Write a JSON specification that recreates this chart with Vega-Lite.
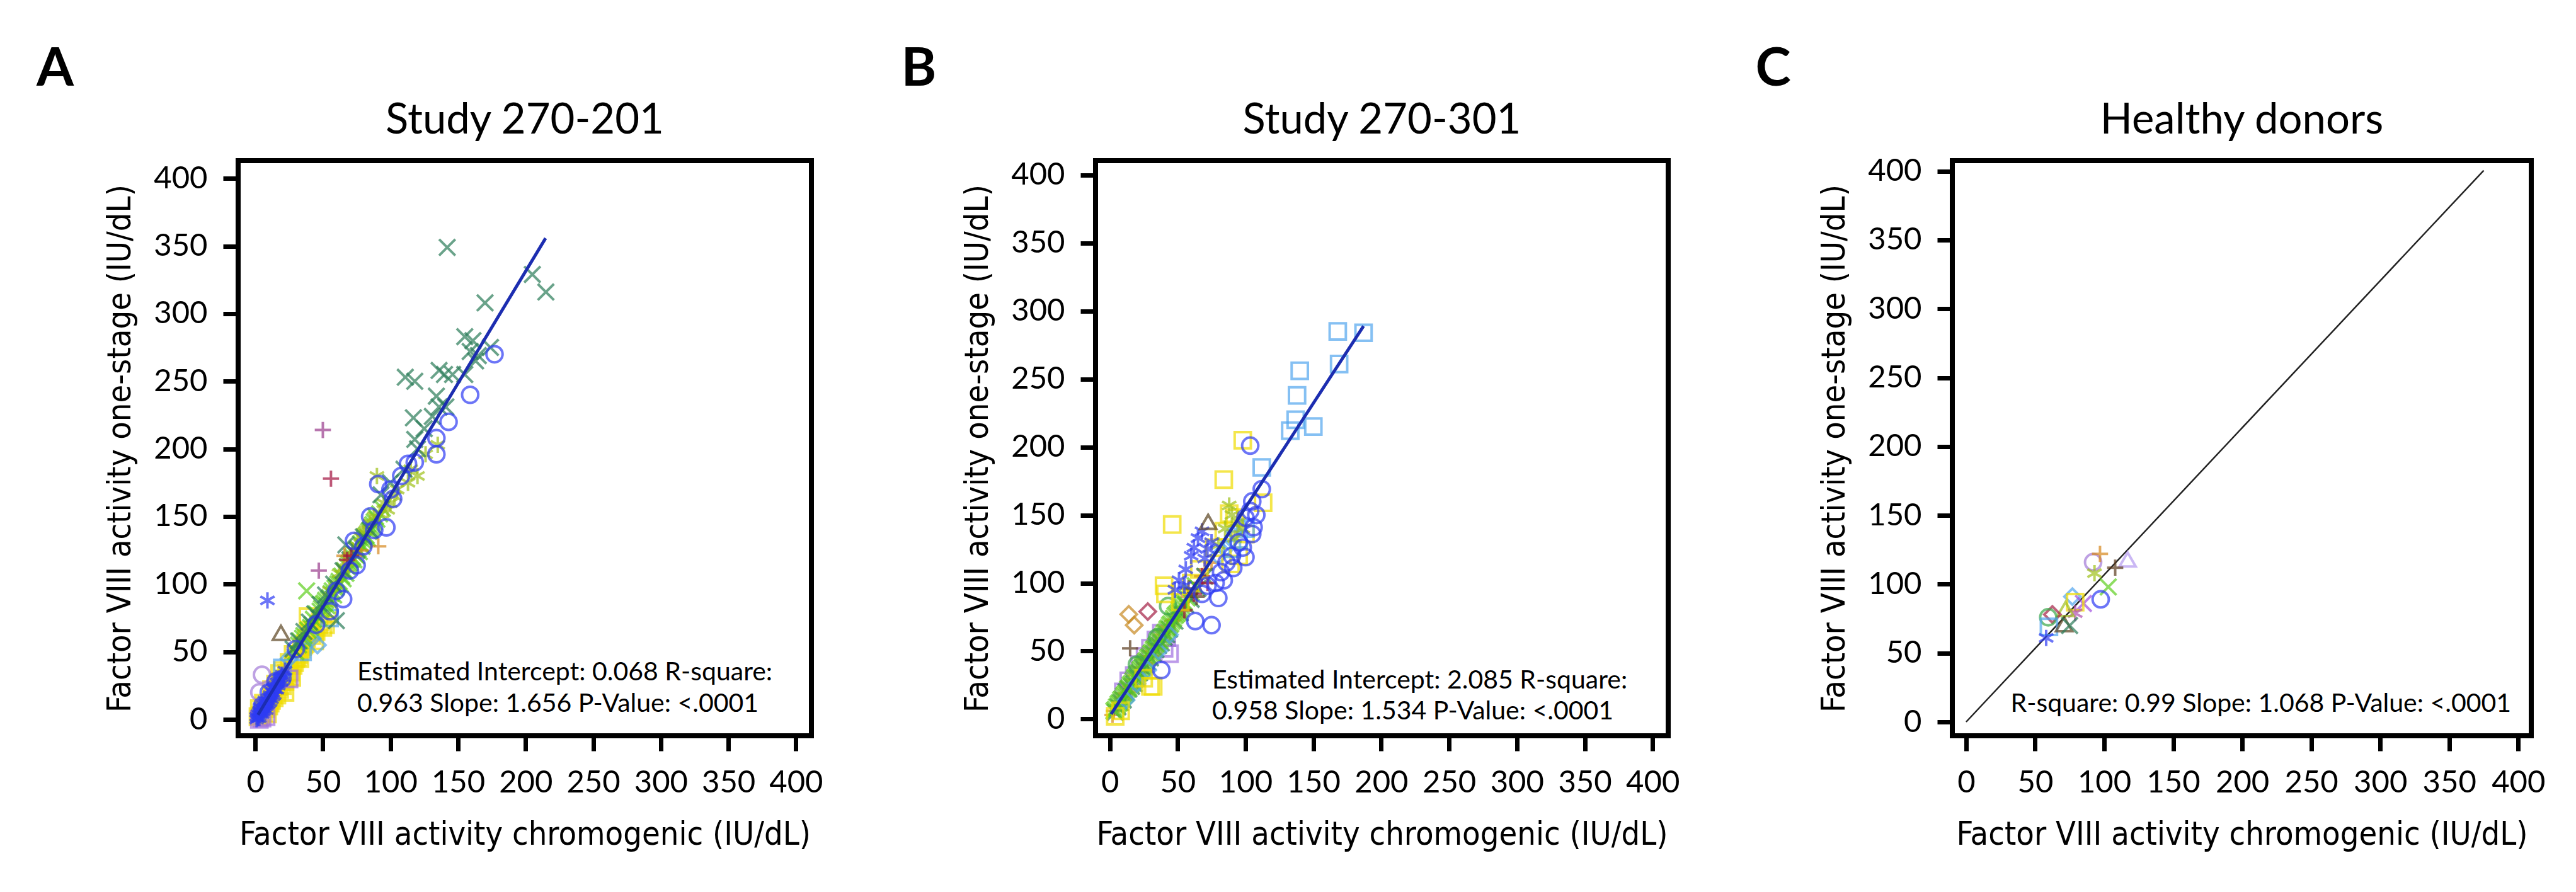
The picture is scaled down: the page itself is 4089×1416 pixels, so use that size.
{
  "$schema": "https://vega.github.io/schema/vega-lite/v6.json",
  "background": "white",
  "padding": {"left": 54, "top": 63, "right": 10, "bottom": 10},
  "config": {
    "view": {"stroke": "#000000", "strokeWidth": 8, "fill": "white"},
    "axis": {"domain": false, "grid": false, "ticks": true, "tickColor": "#000000", "tickWidth": 7, "tickSize": 24, "labelFont": "Lato", "labelFontSize": 49, "labelColor": "#000000", "titleFont": "DejaVu Sans Condensed", "titleFontSize": 52, "titleFontWeight": "normal", "titleColor": "#000000", "labelFlush": false, "labelOverlap": false},
    "axisX": {"labelPadding": 26, "titlePadding": 32},
    "axisY": {"labelPadding": 25, "titlePadding": 26},
    "title": {"font": "Lato", "fontSize": 67, "fontWeight": "normal", "color": "#000000", "frame": "group", "anchor": "middle"},
    "point": {"filled": false, "strokeWidth": 4, "size": 660}
  },
  "datasets": {
    "A": [
      {"x":2,"y":2,"g":"g5"},{"x":4,"y":3,"g":"g5"},{"x":6,"y":5,"g":"g5"},{"x":8,"y":8,"g":"g5"},{"x":10,"y":10,"g":"g5"},{"x":12,"y":14,"g":"g5"},{"x":14,"y":16,"g":"g5"},{"x":16,"y":18,"g":"g5"},{"x":18,"y":22,"g":"g5"},{"x":20,"y":25,"g":"g5"},{"x":22,"y":28,"g":"g5"},{"x":24,"y":32,"g":"g5"},{"x":26,"y":35,"g":"g5"},{"x":28,"y":40,"g":"g5"},{"x":30,"y":45,"g":"g5"},{"x":32,"y":48,"g":"g5"},{"x":34,"y":52,"g":"g5"},{"x":36,"y":55,"g":"g5"},{"x":38,"y":60,"g":"g5"},{"x":39,"y":76,"g":"g5"},{"x":52,"y":70,"g":"g5"},{"x":28,"y":48,"g":"g5"},{"x":45,"y":65,"g":"g5"},{"x":42,"y":62,"g":"g5"},{"x":25,"y":42,"g":"g5"},{"x":20,"y":36,"g":"g5"},{"x":15,"y":26,"g":"g5"},{"x":18,"y":34,"g":"g5"},{"x":12,"y":22,"g":"g5"},{"x":48,"y":72,"g":"g5"},{"x":50,"y":68,"g":"g5"},{"x":6,"y":12,"g":"g5"},{"x":9,"y":4,"g":"g5"},{"x":3,"y":8,"g":"g5"},{"x":22,"y":20,"g":"g5"},{"x":27,"y":31,"g":"g5"},{"x":33,"y":45,"g":"g5"},{"x":44,"y":58,"g":"g5"},{"x":40,"y":66,"g":"g5"},{"x":54,"y":78,"g":"g5"},{"x":47,"y":70,"g":"g5"},
      {"x":7,"y":10,"g":"g5"},{"x":11,"y":12,"g":"g5"},{"x":13,"y":18,"g":"g5"},{"x":17,"y":24,"g":"g5"},{"x":19,"y":28,"g":"g5"},{"x":21,"y":30,"g":"g5"},{"x":23,"y":34,"g":"g5"},{"x":29,"y":42,"g":"g5"},{"x":31,"y":46,"g":"g5"},{"x":35,"y":54,"g":"g5"},{"x":37,"y":56,"g":"g5"},{"x":41,"y":64,"g":"g5"},{"x":43,"y":66,"g":"g5"},
      {"x":46,"y":55,"g":"g11"},{"x":25,"y":45,"g":"g11"},{"x":42,"y":60,"g":"g11"},
      {"x":35,"y":50,"g":"g6"},{"x":20,"y":38,"g":"g6"},{"x":55,"y":75,"g":"g6"},
      {"x":3,"y":0,"g":"g19"},{"x":5,"y":1,"g":"g19"},{"x":25,"y":30,"g":"g19"},{"x":8,"y":2,"g":"g19"},
      {"x":5,"y":33,"g":"g12"},{"x":3,"y":20,"g":"g12"},
      {"x":19,"y":64,"g":"g15"},
      {"x":38,"y":95,"g":"g9"},{"x":42,"y":70,"g":"g9"},{"x":45,"y":78,"g":"g9"},{"x":48,"y":80,"g":"g9"},{"x":50,"y":85,"g":"g9"},{"x":52,"y":88,"g":"g9"},{"x":55,"y":90,"g":"g9"},{"x":57,"y":95,"g":"g9"},{"x":60,"y":98,"g":"g9"},{"x":62,"y":102,"g":"g9"},{"x":64,"y":106,"g":"g9"},{"x":66,"y":110,"g":"g9"},{"x":68,"y":113,"g":"g9"},{"x":70,"y":116,"g":"g9"},{"x":72,"y":120,"g":"g9"},{"x":74,"y":122,"g":"g9"},{"x":76,"y":126,"g":"g9"},{"x":78,"y":130,"g":"g9"},{"x":80,"y":132,"g":"g9"},{"x":82,"y":136,"g":"g9"},{"x":84,"y":139,"g":"g9"},{"x":86,"y":142,"g":"g9"},{"x":88,"y":146,"g":"g9"},{"x":90,"y":148,"g":"g9"},{"x":47,"y":75,"g":"g9"},{"x":53,"y":84,"g":"g9"},{"x":58,"y":92,"g":"g9"},{"x":63,"y":100,"g":"g9"},{"x":67,"y":108,"g":"g9"},{"x":73,"y":118,"g":"g9"},{"x":77,"y":124,"g":"g9"},{"x":83,"y":134,"g":"g9"},{"x":35,"y":60,"g":"g9"},{"x":32,"y":55,"g":"g9"},{"x":30,"y":50,"g":"g9"},
      {"x":33,"y":58,"g":"g9"},{"x":36,"y":62,"g":"g9"},{"x":39,"y":66,"g":"g9"},{"x":41,"y":68,"g":"g9"},{"x":43,"y":74,"g":"g9"},{"x":46,"y":77,"g":"g9"},{"x":49,"y":82,"g":"g9"},{"x":51,"y":86,"g":"g9"},{"x":54,"y":89,"g":"g9"},{"x":56,"y":93,"g":"g9"},{"x":59,"y":97,"g":"g9"},{"x":61,"y":100,"g":"g9"},{"x":65,"y":104,"g":"g9"},{"x":69,"y":115,"g":"g9"},{"x":71,"y":118,"g":"g9"},{"x":75,"y":121,"g":"g9"},{"x":79,"y":128,"g":"g9"},{"x":81,"y":134,"g":"g9"},{"x":85,"y":140,"g":"g9"},{"x":87,"y":144,"g":"g9"},{"x":89,"y":150,"g":"g9"},{"x":92,"y":152,"g":"g9"},{"x":94,"y":156,"g":"g9"},
      {"x":90,"y":180,"g":"g3"},{"x":120,"y":180,"g":"g3"},{"x":113,"y":175,"g":"g3"},{"x":135,"y":203,"g":"g3"},{"x":103,"y":165,"g":"g3"},{"x":126,"y":196,"g":"g3"},{"x":95,"y":160,"g":"g3"},{"x":85,"y":145,"g":"g3"},{"x":78,"y":135,"g":"g3"},{"x":70,"y":120,"g":"g3"},{"x":62,"y":108,"g":"g3"},{"x":55,"y":95,"g":"g3"},{"x":98,"y":155,"g":"g3"},{"x":105,"y":170,"g":"g3"},{"x":115,"y":185,"g":"g3"},{"x":88,"y":150,"g":"g3"},{"x":80,"y":138,"g":"g3"},{"x":72,"y":125,"g":"g3"},{"x":68,"y":112,"g":"g3"},{"x":60,"y":100,"g":"g3"},{"x":65,"y":112,"g":"g3"},{"x":75,"y":128,"g":"g3"},{"x":82,"y":140,"g":"g3"},{"x":92,"y":152,"g":"g3"},{"x":100,"y":160,"g":"g3"},
      {"x":142,"y":349,"g":"g2"},{"x":205,"y":329,"g":"g2"},{"x":215,"y":316,"g":"g2"},{"x":170,"y":308,"g":"g2"},{"x":155,"y":283,"g":"g2"},{"x":161,"y":280,"g":"g2"},{"x":159,"y":272,"g":"g2"},{"x":165,"y":269,"g":"g2"},{"x":174,"y":275,"g":"g2"},{"x":163,"y":265,"g":"g2"},{"x":136,"y":258,"g":"g2"},{"x":140,"y":255,"g":"g2"},{"x":146,"y":255,"g":"g2"},{"x":111,"y":253,"g":"g2"},{"x":118,"y":250,"g":"g2"},{"x":155,"y":255,"g":"g2"},{"x":134,"y":239,"g":"g2"},{"x":136,"y":231,"g":"g2"},{"x":131,"y":224,"g":"g2"},{"x":141,"y":231,"g":"g2"},{"x":117,"y":223,"g":"g2"},{"x":118,"y":207,"g":"g2"},{"x":93,"y":166,"g":"g2"},{"x":67,"y":129,"g":"g2"},{"x":60,"y":73,"g":"g2"},{"x":100,"y":175,"g":"g2"},{"x":120,"y":200,"g":"g2"},{"x":110,"y":185,"g":"g2"},{"x":85,"y":140,"g":"g2"},{"x":80,"y":135,"g":"g2"},{"x":75,"y":125,"g":"g2"},{"x":70,"y":118,"g":"g2"},{"x":65,"y":110,"g":"g2"},{"x":58,"y":100,"g":"g2"},{"x":52,"y":92,"g":"g2"},{"x":48,"y":85,"g":"g2"},{"x":44,"y":78,"g":"g2"},{"x":40,"y":72,"g":"g2"},{"x":36,"y":65,"g":"g2"},{"x":32,"y":58,"g":"g2"},{"x":28,"y":52,"g":"g2"},{"x":125,"y":215,"g":"g2"},
      {"x":91,"y":128,"g":"g10"},{"x":66,"y":121,"g":"g10"},{"x":78,"y":125,"g":"g10"},
      {"x":56,"y":178,"g":"g8"},{"x":71,"y":121,"g":"g8"},{"x":68,"y":118,"g":"g8"},
      {"x":50,"y":214,"g":"g7"},{"x":47,"y":110,"g":"g7"},
      {"x":177,"y":270,"g":"g1"},{"x":159,"y":240,"g":"g1"},{"x":143,"y":220,"g":"g1"},{"x":134,"y":208,"g":"g1"},{"x":134,"y":196,"g":"g1"},{"x":91,"y":174,"g":"g1"},{"x":102,"y":163,"g":"g1"},{"x":97,"y":142,"g":"g1"},{"x":73,"y":132,"g":"g1"},{"x":75,"y":114,"g":"g1"},{"x":65,"y":89,"g":"g1"},{"x":113,"y":189,"g":"g1"},{"x":108,"y":180,"g":"g1"},{"x":88,"y":140,"g":"g1"},{"x":80,"y":128,"g":"g1"},{"x":60,"y":95,"g":"g1"},{"x":55,"y":80,"g":"g1"},{"x":45,"y":70,"g":"g1"},{"x":30,"y":52,"g":"g1"},{"x":20,"y":30,"g":"g1"},{"x":15,"y":28,"g":"g1"},{"x":10,"y":20,"g":"g1"},{"x":5,"y":10,"g":"g1"},{"x":85,"y":150,"g":"g1"},{"x":70,"y":110,"g":"g1"},{"x":100,"y":170,"g":"g1"},{"x":118,"y":190,"g":"g1"},
      {"x":1,"y":2,"g":"g4"},{"x":2,"y":4,"g":"g4"},{"x":3,"y":3,"g":"g4"},{"x":3,"y":6,"g":"g4"},{"x":4,"y":5,"g":"g4"},{"x":5,"y":8,"g":"g4"},{"x":5,"y":4,"g":"g4"},{"x":6,"y":10,"g":"g4"},{"x":7,"y":9,"g":"g4"},{"x":8,"y":12,"g":"g4"},{"x":8,"y":7,"g":"g4"},{"x":9,"y":14,"g":"g4"},{"x":10,"y":16,"g":"g4"},{"x":10,"y":12,"g":"g4"},{"x":11,"y":18,"g":"g4"},{"x":12,"y":15,"g":"g4"},{"x":12,"y":21,"g":"g4"},{"x":13,"y":20,"g":"g4"},{"x":14,"y":24,"g":"g4"},{"x":15,"y":22,"g":"g4"},{"x":16,"y":27,"g":"g4"},{"x":17,"y":25,"g":"g4"},{"x":18,"y":30,"g":"g4"},{"x":19,"y":28,"g":"g4"},{"x":20,"y":33,"g":"g4"},{"x":21,"y":31,"g":"g4"},{"x":22,"y":36,"g":"g4"},{"x":9,"y":88,"g":"g4"},{"x":6,"y":6,"g":"g4"},{"x":4,"y":9,"g":"g4"},{"x":14,"y":18,"g":"g4"},{"x":16,"y":22,"g":"g4"},{"x":11,"y":13,"g":"g4"},{"x":2,"y":1,"g":"g4"},{"x":7,"y":14,"g":"g4"},
      {"x":1,"y":0,"g":"g4"},{"x":3,"y":1,"g":"g4"},{"x":4,"y":7,"g":"g4"},{"x":6,"y":8,"g":"g4"},{"x":8,"y":10,"g":"g4"},{"x":9,"y":11,"g":"g4"},{"x":11,"y":16,"g":"g4"},{"x":13,"y":17,"g":"g4"},{"x":15,"y":25,"g":"g4"},{"x":17,"y":28,"g":"g4"},{"x":19,"y":31,"g":"g4"},{"x":13,"y":23,"g":"g4"},{"x":5,"y":6,"g":"g4"},{"x":7,"y":11,"g":"g4"}
    ],
    "B": [
      {"x":10,"y":20,"g":"g19"},{"x":14,"y":28,"g":"g19"},{"x":18,"y":32,"g":"g19"},{"x":22,"y":40,"g":"g19"},{"x":26,"y":46,"g":"g19"},{"x":30,"y":52,"g":"g19"},{"x":34,"y":58,"g":"g19"},{"x":38,"y":63,"g":"g19"},{"x":42,"y":60,"g":"g19"},{"x":44,"y":48,"g":"g19"},{"x":40,"y":52,"g":"g19"},
      {"x":2,"y":3,"g":"g10"},{"x":6,"y":10,"g":"g10"},{"x":10,"y":16,"g":"g10"},{"x":14,"y":20,"g":"g10"},{"x":18,"y":29,"g":"g10"},{"x":22,"y":35,"g":"g10"},{"x":26,"y":41,"g":"g10"},{"x":30,"y":46,"g":"g10"},{"x":34,"y":55,"g":"g10"},{"x":38,"y":57,"g":"g10"},{"x":42,"y":65,"g":"g10"},{"x":46,"y":72,"g":"g10"},{"x":50,"y":75,"g":"g10"},{"x":58,"y":90,"g":"g10"},{"x":62,"y":95,"g":"g10"},{"x":66,"y":100,"g":"g10"},{"x":70,"y":110,"g":"g10"},{"x":75,"y":115,"g":"g10"},
      {"x":3,"y":6,"g":"g10"},{"x":7,"y":13,"g":"g10"},{"x":11,"y":19,"g":"g10"},{"x":15,"y":24,"g":"g10"},{"x":19,"y":32,"g":"g10"},{"x":23,"y":38,"g":"g10"},{"x":27,"y":44,"g":"g10"},{"x":31,"y":50,"g":"g10"},{"x":35,"y":54,"g":"g10"},{"x":39,"y":62,"g":"g10"},{"x":43,"y":68,"g":"g10"},{"x":47,"y":73,"g":"g10"},{"x":53,"y":82,"g":"g10"},{"x":57,"y":87,"g":"g10"},
      {"x":4,"y":5,"g":"g2"},{"x":8,"y":12,"g":"g2"},{"x":12,"y":20,"g":"g2"},{"x":16,"y":24,"g":"g2"},{"x":20,"y":30,"g":"g2"},{"x":24,"y":38,"g":"g2"},{"x":28,"y":42,"g":"g2"},{"x":32,"y":48,"g":"g2"},{"x":36,"y":54,"g":"g2"},{"x":40,"y":60,"g":"g2"},{"x":44,"y":66,"g":"g2"},{"x":48,"y":72,"g":"g2"},{"x":52,"y":78,"g":"g2"},{"x":56,"y":84,"g":"g2"},{"x":60,"y":88,"g":"g2"},{"x":65,"y":96,"g":"g2"},{"x":70,"y":105,"g":"g2"},
      {"x":6,"y":9,"g":"g2"},{"x":10,"y":14,"g":"g2"},{"x":14,"y":22,"g":"g2"},{"x":18,"y":26,"g":"g2"},{"x":22,"y":34,"g":"g2"},{"x":26,"y":40,"g":"g2"},{"x":30,"y":45,"g":"g2"},{"x":34,"y":51,"g":"g2"},{"x":38,"y":56,"g":"g2"},{"x":42,"y":62,"g":"g2"},
      {"x":3,"y":6,"g":"g9"},{"x":5,"y":9,"g":"g9"},{"x":7,"y":12,"g":"g9"},{"x":9,"y":15,"g":"g9"},{"x":11,"y":18,"g":"g9"},{"x":13,"y":22,"g":"g9"},{"x":15,"y":25,"g":"g9"},{"x":17,"y":28,"g":"g9"},{"x":19,"y":31,"g":"g9"},{"x":21,"y":34,"g":"g9"},{"x":23,"y":37,"g":"g9"},{"x":25,"y":40,"g":"g9"},{"x":27,"y":43,"g":"g9"},{"x":29,"y":46,"g":"g9"},{"x":31,"y":49,"g":"g9"},{"x":33,"y":52,"g":"g9"},{"x":35,"y":55,"g":"g9"},{"x":37,"y":58,"g":"g9"},{"x":39,"y":61,"g":"g9"},{"x":41,"y":64,"g":"g9"},{"x":43,"y":67,"g":"g9"},{"x":45,"y":70,"g":"g9"},{"x":47,"y":74,"g":"g9"},{"x":49,"y":77,"g":"g9"},{"x":51,"y":80,"g":"g9"},{"x":53,"y":83,"g":"g9"},{"x":55,"y":86,"g":"g9"},{"x":57,"y":89,"g":"g9"},{"x":60,"y":93,"g":"g9"},{"x":63,"y":98,"g":"g9"},
      {"x":4,"y":7,"g":"g9"},{"x":6,"y":11,"g":"g9"},{"x":8,"y":14,"g":"g9"},{"x":10,"y":17,"g":"g9"},{"x":12,"y":19,"g":"g9"},{"x":14,"y":23,"g":"g9"},{"x":16,"y":26,"g":"g9"},{"x":18,"y":30,"g":"g9"},{"x":20,"y":33,"g":"g9"},{"x":22,"y":36,"g":"g9"},{"x":24,"y":39,"g":"g9"},{"x":26,"y":42,"g":"g9"},{"x":28,"y":45,"g":"g9"},{"x":30,"y":48,"g":"g9"},{"x":32,"y":51,"g":"g9"},{"x":34,"y":54,"g":"g9"},{"x":36,"y":57,"g":"g9"},{"x":38,"y":60,"g":"g9"},{"x":40,"y":63,"g":"g9"},{"x":42,"y":66,"g":"g9"},{"x":44,"y":69,"g":"g9"},{"x":46,"y":72,"g":"g9"},{"x":48,"y":76,"g":"g9"},{"x":50,"y":78,"g":"g9"},{"x":52,"y":81,"g":"g9"},{"x":54,"y":85,"g":"g9"},
      {"x":12,"y":14,"g":"g11"},{"x":20,"y":26,"g":"g11"},{"x":28,"y":36,"g":"g11"},{"x":36,"y":50,"g":"g11"},{"x":44,"y":62,"g":"g11"},{"x":80,"y":120,"g":"g11"},{"x":88,"y":130,"g":"g11"},{"x":92,"y":138,"g":"g11"},{"x":96,"y":142,"g":"g11"},{"x":85,"y":125,"g":"g11"},
      {"x":55,"y":80,"g":"g8"},{"x":62,"y":92,"g":"g8"},{"x":68,"y":105,"g":"g8"},{"x":72,"y":100,"g":"g8"},
      {"x":15,"y":52,"g":"g17"},{"x":58,"y":96,"g":"g17"},{"x":64,"y":90,"g":"g17"},
      {"x":43,"y":83,"g":"g18"},{"x":35,"y":60,"g":"g18"},{"x":20,"y":40,"g":"g18"},
      {"x":14,"y":77,"g":"g13"},{"x":18,"y":69,"g":"g13"},
      {"x":28,"y":79,"g":"g14"},
      {"x":4,"y":2,"g":"g5"},{"x":8,"y":6,"g":"g5"},{"x":30,"y":24,"g":"g5"},{"x":32,"y":24,"g":"g5"},{"x":25,"y":30,"g":"g5"},{"x":60,"y":100,"g":"g5"},{"x":66,"y":110,"g":"g5"},{"x":52,"y":86,"g":"g5"},{"x":88,"y":151,"g":"g5"},{"x":77,"y":126,"g":"g5"},{"x":84,"y":138,"g":"g5"},{"x":92,"y":148,"g":"g5"},{"x":100,"y":136,"g":"g5"},{"x":95,"y":120,"g":"g5"},{"x":98,"y":205,"g":"g5"},{"x":84,"y":176,"g":"g5"},{"x":46,"y":143,"g":"g5"},{"x":113,"y":159,"g":"g5"},{"x":40,"y":98,"g":"g5"},{"x":41,"y":92,"g":"g5"},{"x":89,"y":114,"g":"g5"},
      {"x":168,"y":285,"g":"g6"},{"x":187,"y":284,"g":"g6"},{"x":169,"y":261,"g":"g6"},{"x":140,"y":256,"g":"g6"},{"x":138,"y":238,"g":"g6"},{"x":137,"y":220,"g":"g6"},{"x":133,"y":212,"g":"g6"},{"x":150,"y":215,"g":"g6"},{"x":112,"y":185,"g":"g6"},{"x":95,"y":132,"g":"g6"},{"x":90,"y":125,"g":"g6"},{"x":100,"y":140,"g":"g6"},
      {"x":88,"y":157,"g":"g3"},{"x":90,"y":150,"g":"g3"},{"x":95,"y":145,"g":"g3"},{"x":85,"y":140,"g":"g3"},{"x":92,"y":133,"g":"g3"},{"x":80,"y":128,"g":"g3"},{"x":98,"y":140,"g":"g3"},
      {"x":65,"y":133,"g":"g4"},{"x":60,"y":120,"g":"g4"},{"x":51,"y":102,"g":"g4"},{"x":68,"y":138,"g":"g4"},{"x":72,"y":125,"g":"g4"},{"x":56,"y":110,"g":"g4"},{"x":48,"y":95,"g":"g4"},{"x":75,"y":130,"g":"g4"},{"x":62,"y":126,"g":"g4"},{"x":70,"y":118,"g":"g4"},{"x":55,"y":98,"g":"g4"},
      {"x":103.5,"y":201,"g":"g1"},{"x":112,"y":169,"g":"g1"},{"x":105,"y":160,"g":"g1"},{"x":103.5,"y":153,"g":"g1"},{"x":106,"y":141,"g":"g1"},{"x":105,"y":136,"g":"g1"},{"x":100,"y":119,"g":"g1"},{"x":91,"y":111,"g":"g1"},{"x":84,"y":102,"g":"g1"},{"x":80,"y":89,"g":"g1"},{"x":75,"y":69,"g":"g1"},{"x":63,"y":72,"g":"g1"},{"x":38,"y":36,"g":"g1"},{"x":95,"y":130,"g":"g1"},{"x":98,"y":126,"g":"g1"},{"x":90,"y":120,"g":"g1"},{"x":86,"y":115,"g":"g1"},{"x":82,"y":108,"g":"g1"},{"x":72,"y":98,"g":"g1"},{"x":68,"y":92,"g":"g1"},{"x":78,"y":100,"g":"g1"},{"x":108,"y":150,"g":"g1"},{"x":100,"y":148,"g":"g1"},
      {"x":72.5,"y":145,"g":"g15"}
    ],
    "C": [
      {"x":92,"y":116,"g":"g12"},{"x":97,"y":122,"g":"g10"},{"x":117,"y":118,"g":"g16"},{"x":108,"y":112,"g":"g17"},{"x":93,"y":108,"g":"g3"},{"x":103,"y":98,"g":"g9"},{"x":97.5,"y":89,"g":"g1"},{"x":77,"y":91,"g":"g11"},{"x":85,"y":86,"g":"g20"},{"x":79,"y":87,"g":"g5"},{"x":79,"y":79,"g":"g21"},{"x":72,"y":82,"g":"g22"},{"x":62.5,"y":78,"g":"g14"},{"x":59.5,"y":76,"g":"g18"},{"x":60,"y":69,"g":"g6"},{"x":71,"y":71,"g":"g15"},{"x":75,"y":70,"g":"g2"},{"x":58,"y":61,"g":"g4"}
    ]
  },
  "bounds": "flush",
  "spacing": 451,
  "hconcat": [
    {
      "width": 910, "height": 913,
      "title": {"text": "Study 270-201", "offset": -158},
      "layer": [
        {
          "data": {"name": "A"},
          "mark": {"type": "point"},
          "encoding": {
            "x": {"field": "x", "type": "quantitative", "scale": {"domain": [-12.68, 411.47], "nice": false, "zero": false}, "axis": {"values": [0,50,100,150,200,250,300,350,400], "title": "Factor VIII activity chromogenic (IU/dL)"}},
            "y": {"field": "y", "type": "quantitative", "scale": {"domain": [-12.11, 413.14], "nice": false, "zero": false}, "axis": {"values": [0,50,100,150,200,250,300,350,400], "title": "Factor VIII activity one-stage (IU/dL)"}},
            "color": {"field": "g", "type": "nominal", "legend": null, "scale": {"domain": ["g1","g2","g3","g4","g5","g6","g7","g8","g9","g10","g11","g12","g13","g14","g15","g16","g17","g18","g19","g20","g21","g22"], "range": ["#2e3cf4","#2c7d5a","#9fc11a","#2e3cf4","#f0dc00","#52a6ee","#9a3c8c","#a3123f","#5fcf1f","#d6871c","#52a6ee","#a37ad8","#c88a22","#a42046","#5b4420","#b49af0","#5a3a1c","#3aa84a","#a070e0","#a050e0","#b050b0","#a0c020"]}},
            "shape": {"field": "g", "type": "nominal", "legend": null, "scale": {"domain": ["g1","g2","g3","g4","g5","g6","g7","g8","g9","g10","g11","g12","g13","g14","g15","g16","g17","g18","g19","g20","g21","g22"], "range": ["circle","M-1,-1L1,1M-1,1L1,-1","M0,-1L0,1M-0.87,-0.5L0.87,0.5M-0.87,0.5L0.87,-0.5","M0,-1L0,1M-0.87,-0.5L0.87,0.5M-0.87,0.5L0.87,-0.5","square","square","M-1,0L1,0M0,-1L0,1","M-1,0L1,0M0,-1L0,1","M-1,-1L1,1M-1,1L1,-1","M-1,0L1,0M0,-1L0,1","diamond","circle","diamond","diamond","triangle-up","triangle-up","M-1,0L1,0M0,-1L0,1","circle","square","M-1,-1L1,1M-1,1L1,-1","M0,-1L0,1M-0.87,-0.5L0.87,0.5M-0.87,0.5L0.87,-0.5","triangle-up"]}}
          }
        },
        {
          "data": {"values": [{"x": 2, "y": 3.4}, {"x": 214.8, "y": 355.8}]},
          "mark": {"type": "line", "color": "#1c2db0", "strokeWidth": 5},
          "encoding": {
            "x": {"field": "x", "type": "quantitative", "scale": {"domain": [-12.68, 411.47], "nice": false, "zero": false}},
            "y": {"field": "y", "type": "quantitative", "scale": {"domain": [-12.11, 413.14], "nice": false, "zero": false}}
          }
        },
        {
          "data": {"values": [{"note": "Estimated Intercept: 0.068 R-square:\n0.963 Slope: 1.656 P-Value: <.0001"}]},
          "mark": {"type": "text", "align": "left", "baseline": "alphabetic", "font": "Lato", "fontSize": 41, "lineHeight": 50, "lineBreak": "\n", "color": "#000000"},
          "encoding": {
            "x": {"datum": 75.4, "type": "quantitative", "scale": {"domain": [-12.68, 411.47], "nice": false, "zero": false}},
            "y": {"datum": 28.9, "type": "quantitative", "scale": {"domain": [-12.11, 413.14], "nice": false, "zero": false}},
            "text": {"field": "note", "type": "nominal"}
          }
        },
        {
          "data": {"values": [{"letter": "A"}]},
          "mark": {"type": "text", "align": "left", "baseline": "alphabetic", "font": "Lato", "fontWeight": "bold", "fontSize": 85, "color": "#000000"},
          "encoding": {
            "x": {"datum": -161.8, "type": "quantitative", "scale": {"domain": [-12.68, 411.47], "nice": false, "zero": false}},
            "y": {"datum": 468.6, "type": "quantitative", "scale": {"domain": [-12.11, 413.14], "nice": false, "zero": false}},
            "text": {"field": "letter", "type": "nominal"}
          }
        }
      ]
    },
    {
      "width": 909, "height": 913,
      "title": {"text": "Study 270-301", "offset": -158},
      "layer": [
        {
          "data": {"name": "B"},
          "mark": {"type": "point"},
          "encoding": {
            "x": {"field": "x", "type": "quantitative", "scale": {"domain": [-10.49, 411.51], "nice": false, "zero": false}, "axis": {"values": [0,50,100,150,200,250,300,350,400], "title": "Factor VIII activity chromogenic (IU/dL)"}},
            "y": {"field": "y", "type": "quantitative", "scale": {"domain": [-12.32, 410.56], "nice": false, "zero": false}, "axis": {"values": [0,50,100,150,200,250,300,350,400], "title": "Factor VIII activity one-stage (IU/dL)"}},
            "color": {"field": "g", "type": "nominal", "legend": null, "scale": {"domain": ["g1","g2","g3","g4","g5","g6","g7","g8","g9","g10","g11","g12","g13","g14","g15","g16","g17","g18","g19","g20","g21","g22"], "range": ["#2e3cf4","#2c7d5a","#9fc11a","#2e3cf4","#f0dc00","#52a6ee","#9a3c8c","#a3123f","#5fcf1f","#d6871c","#52a6ee","#a37ad8","#c88a22","#a42046","#5b4420","#b49af0","#5a3a1c","#3aa84a","#a070e0","#a050e0","#b050b0","#a0c020"]}},
            "shape": {"field": "g", "type": "nominal", "legend": null, "scale": {"domain": ["g1","g2","g3","g4","g5","g6","g7","g8","g9","g10","g11","g12","g13","g14","g15","g16","g17","g18","g19","g20","g21","g22"], "range": ["circle","M-1,-1L1,1M-1,1L1,-1","M0,-1L0,1M-0.87,-0.5L0.87,0.5M-0.87,0.5L0.87,-0.5","M0,-1L0,1M-0.87,-0.5L0.87,0.5M-0.87,0.5L0.87,-0.5","square","square","M-1,0L1,0M0,-1L0,1","M-1,0L1,0M0,-1L0,1","M-1,-1L1,1M-1,1L1,-1","M-1,0L1,0M0,-1L0,1","diamond","circle","diamond","diamond","triangle-up","triangle-up","M-1,0L1,0M0,-1L0,1","circle","square","M-1,-1L1,1M-1,1L1,-1","M0,-1L0,1M-0.87,-0.5L0.87,0.5M-0.87,0.5L0.87,-0.5","triangle-up"]}}
          }
        },
        {
          "data": {"values": [{"x": 1, "y": 3.6}, {"x": 187, "y": 288.9}]},
          "mark": {"type": "line", "color": "#1c2db0", "strokeWidth": 5},
          "encoding": {
            "x": {"field": "x", "type": "quantitative", "scale": {"domain": [-10.49, 411.51], "nice": false, "zero": false}},
            "y": {"field": "y", "type": "quantitative", "scale": {"domain": [-12.32, 410.56], "nice": false, "zero": false}}
          }
        },
        {
          "data": {"values": [{"note": "Estimated Intercept: 2.085 R-square:\n0.958 Slope: 1.534 P-Value: <.0001"}]},
          "mark": {"type": "text", "align": "left", "baseline": "alphabetic", "font": "Lato", "fontSize": 41, "lineHeight": 49, "lineBreak": "\n", "color": "#000000"},
          "encoding": {
            "x": {"datum": 75.4, "type": "quantitative", "scale": {"domain": [-10.49, 411.51], "nice": false, "zero": false}},
            "y": {"datum": 22.2, "type": "quantitative", "scale": {"domain": [-12.32, 410.56], "nice": false, "zero": false}},
            "text": {"field": "note", "type": "nominal"}
          }
        },
        {
          "data": {"values": [{"letter": "B"}]},
          "mark": {"type": "text", "align": "left", "baseline": "alphabetic", "font": "Lato", "fontWeight": "bold", "fontSize": 85, "color": "#000000"},
          "encoding": {
            "x": {"datum": -153.7, "type": "quantitative", "scale": {"domain": [-10.49, 411.51], "nice": false, "zero": false}},
            "y": {"datum": 465.7, "type": "quantitative", "scale": {"domain": [-12.32, 410.56], "nice": false, "zero": false}},
            "text": {"field": "letter", "type": "nominal"}
          }
        }
      ]
    },
    {
      "width": 919, "height": 913,
      "title": {"text": "Healthy donors", "offset": -158},
      "layer": [
        {
          "data": {"values": [{"x": 0, "y": 0}, {"x": 375, "y": 400.5}]},
          "mark": {"type": "line", "color": "#222222", "strokeWidth": 2.5},
          "encoding": {
            "x": {"field": "x", "type": "quantitative", "scale": {"domain": [-10.0, 409.45], "nice": false, "zero": false}, "axis": {"values": [0,50,100,150,200,250,300,350,400], "title": "Factor VIII activity chromogenic (IU/dL)"}},
            "y": {"field": "y", "type": "quantitative", "scale": {"domain": [-10.06, 407.6], "nice": false, "zero": false}, "axis": {"values": [0,50,100,150,200,250,300,350,400], "title": "Factor VIII activity one-stage (IU/dL)"}}
          }
        },
        {
          "data": {"name": "C"},
          "mark": {"type": "point"},
          "encoding": {
            "x": {"field": "x", "type": "quantitative", "scale": {"domain": [-10.0, 409.45], "nice": false, "zero": false}},
            "y": {"field": "y", "type": "quantitative", "scale": {"domain": [-10.06, 407.6], "nice": false, "zero": false}},
            "color": {"field": "g", "type": "nominal", "legend": null, "scale": {"domain": ["g1","g2","g3","g4","g5","g6","g7","g8","g9","g10","g11","g12","g13","g14","g15","g16","g17","g18","g19","g20","g21","g22"], "range": ["#2e3cf4","#2c7d5a","#9fc11a","#2e3cf4","#f0dc00","#52a6ee","#9a3c8c","#a3123f","#5fcf1f","#d6871c","#52a6ee","#a37ad8","#c88a22","#a42046","#5b4420","#b49af0","#5a3a1c","#3aa84a","#a070e0","#a050e0","#b050b0","#a0c020"]}},
            "shape": {"field": "g", "type": "nominal", "legend": null, "scale": {"domain": ["g1","g2","g3","g4","g5","g6","g7","g8","g9","g10","g11","g12","g13","g14","g15","g16","g17","g18","g19","g20","g21","g22"], "range": ["circle","M-1,-1L1,1M-1,1L1,-1","M0,-1L0,1M-0.87,-0.5L0.87,0.5M-0.87,0.5L0.87,-0.5","M0,-1L0,1M-0.87,-0.5L0.87,0.5M-0.87,0.5L0.87,-0.5","square","square","M-1,0L1,0M0,-1L0,1","M-1,0L1,0M0,-1L0,1","M-1,-1L1,1M-1,1L1,-1","M-1,0L1,0M0,-1L0,1","diamond","circle","diamond","diamond","triangle-up","triangle-up","M-1,0L1,0M0,-1L0,1","circle","square","M-1,-1L1,1M-1,1L1,-1","M0,-1L0,1M-0.87,-0.5L0.87,0.5M-0.87,0.5L0.87,-0.5","triangle-up"]}}
          }
        },
        {
          "data": {"values": [{"note": "R-square: 0.99 Slope: 1.068 P-Value: <.0001"}]},
          "mark": {"type": "text", "align": "left", "baseline": "alphabetic", "font": "Lato", "fontSize": 41, "color": "#000000"},
          "encoding": {
            "x": {"datum": 32.2, "type": "quantitative", "scale": {"domain": [-10.0, 409.45], "nice": false, "zero": false}},
            "y": {"datum": 7.3, "type": "quantitative", "scale": {"domain": [-10.06, 407.6], "nice": false, "zero": false}},
            "text": {"field": "note", "type": "nominal"}
          }
        },
        {
          "data": {"values": [{"letter": "C"}]},
          "mark": {"type": "text", "align": "left", "baseline": "alphabetic", "font": "Lato", "fontWeight": "bold", "fontSize": 85, "color": "#000000"},
          "encoding": {
            "x": {"datum": -152.6, "type": "quantitative", "scale": {"domain": [-10.0, 409.45], "nice": false, "zero": false}},
            "y": {"datum": 462.0, "type": "quantitative", "scale": {"domain": [-10.06, 407.6], "nice": false, "zero": false}},
            "text": {"field": "letter", "type": "nominal"}
          }
        }
      ]
    }
  ]
}
